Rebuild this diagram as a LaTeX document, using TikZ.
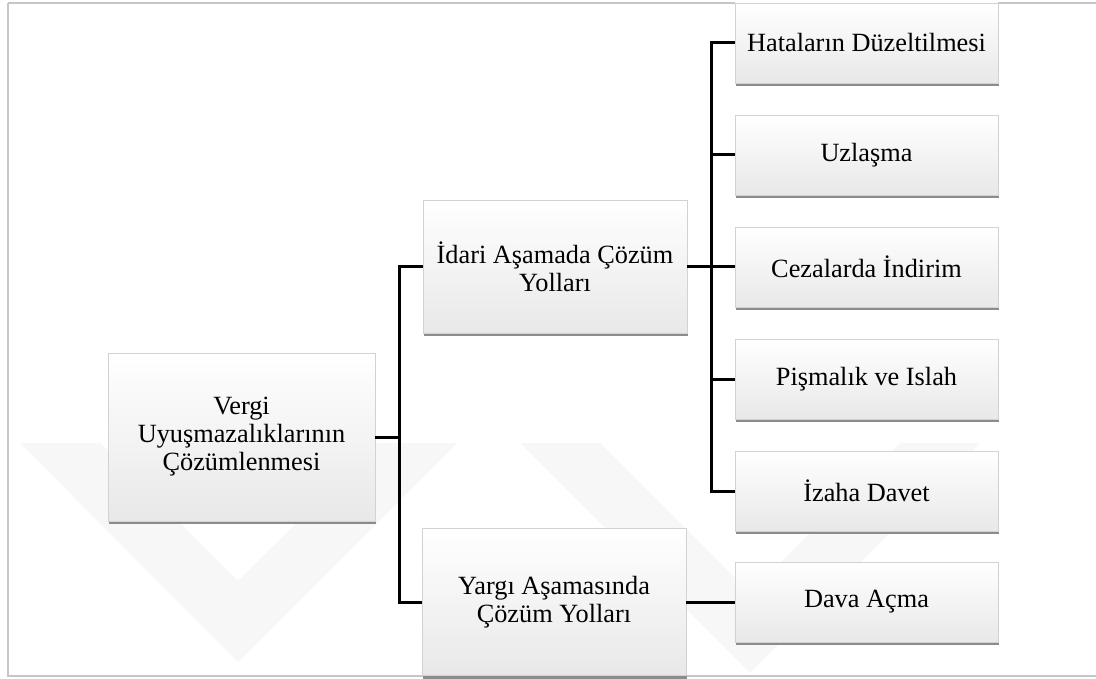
\documentclass[tikz,border=0pt]{standalone}
\usepackage{fontspec}
\setmainfont{Liberation Serif}
\usetikzlibrary{shadows,calc}
\tikzset{
  box/.style={rectangle, draw=gray!35, line width=0.8pt, align=center,
    top color=white, bottom color=gray!18, inner sep=2pt,
    font=\fontsize{26.3}{28}\selectfont,
    drop shadow={shadow xshift=1.2pt, shadow yshift=-3pt, fill=black!45, opacity=1}},
  leaf/.style={box, minimum width=263pt, minimum height=80pt},
  conn/.style={draw=black, line width=3pt},
  wm/.style={fill=black!3, draw=none},
  frame/.style={draw=gray!45, line width=1.5pt}
}
\begin{document}
\begin{tikzpicture}[x=1pt,y=-1pt]
\useasboundingbox (0,0) rectangle (1096,679);
\fill[white] (0,0) rectangle (1096,679);
% faint watermark
\fill[wm] (20,443) -- (100,443) -- (238,581) -- (377,443) -- (457,443) -- (238,662) -- cycle;
\fill[wm] (520,443) -- (600,443) -- (750,593) -- (900,443) -- (980,443) -- (750,673) -- cycle;
% frame
\draw[frame] (8,3) -- (1100,3) (8,3) -- (8,676) -- (1100,676);
% nodes
\node[box, minimum width=267pt, minimum height=168pt] (root) at (241.5,437) {Vergi\\Uyuşmazalıklarının\\Çözümlenmesi};
\node[box, minimum width=264pt, minimum height=133pt] (idari) at (555,267) {İdari Aşamada Çözüm\\Yolları};
\node[box, minimum width=264pt, minimum height=147pt] (yargi) at (554,602) {Yargı Aşamasında\\Çözüm Yolları};
\node[leaf] (h1) at (866.5,43) {Hataların Düzeltilmesi};
\node[leaf] (h2) at (866.5,155) {Uzlaşma};
\node[leaf] (h3) at (866.5,267) {Cezalarda İndirim};
\node[leaf] (h4) at (866.5,379) {Pişmalık ve Islah};
\node[leaf] (h5) at (866.5,491) {İzaha Davet};
\node[leaf] (dava) at (866.5,602) {Dava Açma};
% connectors
\coordinate (t1) at (399,437);
\coordinate (t2) at (711,267);
\draw[conn] (root.east) -- (t1);
\draw[conn] (idari.west) -| (t1);
\draw[conn] (yargi.west) -| (t1);
\draw[conn] (idari.east) -- (t2);
\foreach \n in {h1,h2,h3,h4,h5} \draw[conn] (\n.west) -| (t2);
\draw[conn] (yargi.east) -- (dava.west);
\end{tikzpicture}
\end{document}
